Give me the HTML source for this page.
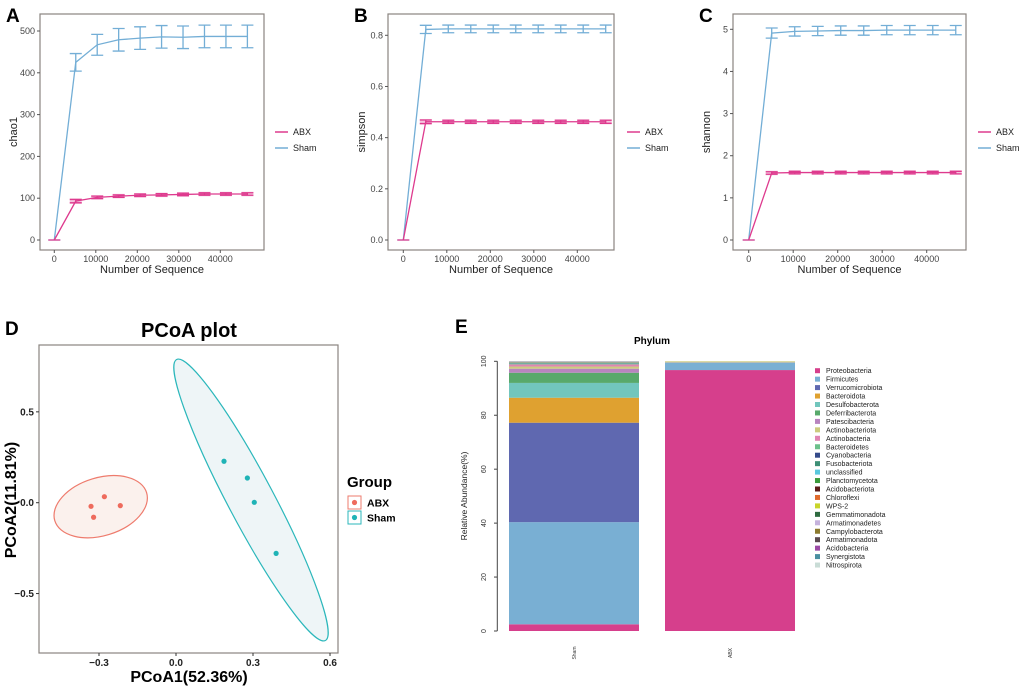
<!DOCTYPE html>
<html><head><meta charset="utf-8"><style>
html,body{margin:0;padding:0;background:#fff;}
svg{display:block;font-family:"Liberation Sans",Arial,sans-serif;}
</style></head><body>
<svg id="fig" width="1020" height="687" viewBox="0 0 1020 687"></svg>
<script>
// ---------- data ----------
const seqDepth = [0,5170,10340,15510,20680,25850,31020,36190,41360,46530];
const chaoSham = [0,425,467,479,483,486,485,487,487,487];
const chaoShamErr = [0,21,25,27,27,27,27,27,27,27];
const chaoAbx = [0,93,102,105,107,108,109,110,110,110];
const chaoAbxErr = [0,4,3,3,3,3,3,3,3,3];
const simpSham = [0,0.823,0.825,0.825,0.825,0.825,0.825,0.825,0.825,0.825];
const simpShamErr = [0,0.016,0.015,0.015,0.015,0.015,0.015,0.015,0.015,0.015];
const simpAbx = [0,0.462,0.462,0.462,0.462,0.462,0.462,0.462,0.462,0.462];
const simpAbxErr = [0,0.007,0.006,0.006,0.006,0.006,0.006,0.006,0.006,0.006];
const shanSham = [0,4.91,4.95,4.96,4.97,4.97,4.98,4.98,4.98,4.98];
const shanShamErr = [0,0.12,0.11,0.11,0.11,0.11,0.11,0.11,0.11,0.11];
const shanAbx = [0,1.59,1.60,1.60,1.60,1.60,1.60,1.60,1.60,1.60];
const shanAbxErr = [0,0.03,0.03,0.03,0.03,0.03,0.03,0.03,0.03,0.03];
const xTicks = [0,10000,20000,30000,40000];
const chaoTicks = [0,100,200,300,400,500];
const simpTicks = [0,0.2,0.4,0.6,0.8];
const shanTicks = [0,1,2,3,4,5];

const abxPcX = [-0.331,-0.279,-0.217,-0.321];
const abxPcY = [-0.020,0.033,-0.016,-0.080];
const shamPcX = [0.187,0.278,0.305,0.390];
const shamPcY = [0.228,0.136,0.002,-0.279];
const pcXTicks = [-0.3,0.0,0.3,0.6];
const pcYTicks = [-0.5,0.0,0.5];

const phyla = ["Proteobacteria","Firmicutes","Verrucomicrobiota","Bacteroidota","Desulfobacterota","Deferribacterota","Patescibacteria","Actinobacteriota","Actinobacteria","Bacteroidetes","Cyanobacteria","Fusobacteriota","unclassified","Planctomycetota","Acidobacteriota","Chloroflexi","WPS-2","Gemmatimonadota","Armatimonadetes","Campylobacterota","Armatimonadota","Acidobacteria","Synergistota","Nitrospirota"];
const phylaColors = ["#d63f8c","#79afd3","#5f68b0","#dfa130","#72c6bd","#58a96b","#b884bf","#cccb7e","#e084b3","#6cc08b","#354a8a","#3d8f76","#5ac8de","#3b9a3b","#5a1a18","#e06a2c","#c9d52a","#2e6b40","#c5b2dc","#8c7a2e","#5a4a50","#9b4aa5","#4a8fa0","#c9dcd6"];
const barGroups = ["Sham","ABX"];
const shamAbund = [2.5,38,37,9.3,5.5,3.8,1.5,0.8,0.8,0.3,0.1,0.1,0.1,0.05,0.05,0.05,0.05,0.05,0.05,0.05,0.05,0.05,0.05,0.05];
const abxAbund = [96.8,2.7,0.05,0.05,0.05,0.05,0.05,0.3,0,0,0,0,0,0,0,0,0,0,0,0,0,0,0,0];
const abundTicks = [0,20,40,60,80,100];

// ---------- helpers ----------
const NS="http://www.w3.org/2000/svg";
const svg=document.getElementById('fig');
function el(tag,attrs,parent,text){const e=document.createElementNS(NS,tag);for(const k in attrs)e.setAttribute(k,attrs[k]);if(text!==undefined)e.textContent=text;(parent||svg).appendChild(e);return e;}
function fmt(v){return String(v);}
const SHAM="#73aed6", ABX="#de3a8e";

function lineChart(cfg){
  const g=el('g',{}, svg);
  
  
  const sx=v=>cfg.x0+v*cfg.xs, sy=v=>cfg.y0-v*cfg.ys;
  const box=el('rect',{x:cfg.bx1,y:14,width:cfg.bx2-cfg.bx1,height:236,fill:'none',stroke:'#8a8480','stroke-width':1.2},g);
  
  
  xTicks.forEach(t=>{
    el('line',{x1:sx(t),x2:sx(t),y1:250,y2:253,stroke:'#555'},g);
    const tx=el('text',{x:sx(t),y:262,'font-size':9,fill:'#444','text-anchor':'middle'},g,fmt(t));
    
    
  });
  cfg.yticks.forEach(t=>{
    el('line',{x1:cfg.bx1-3,x2:cfg.bx1,y1:sy(t),y2:sy(t),stroke:'#555'},g);
    const tx=el('text',{x:cfg.bx1-5,y:sy(t)+3,'font-size':9,fill:'#444','text-anchor':'end'},g,cfg.ylab(t));
    
    
  });
  const xt=el('text',{x:(cfg.bx1+cfg.bx2)/2,y:273,'font-size':11,fill:'#222','text-anchor':'middle'},g,'Number of Sequence');
  
  
  const yt=el('text',{x:0,y:0,'font-size':11,fill:'#222','text-anchor':'middle',transform:`translate(${cfg.bx1-23},132) rotate(-90)`},g,cfg.ytitle);
  
  
  [[cfg.sham,cfg.shamErr,SHAM,'sham'],[cfg.abx,cfg.abxErr,ABX,'abx']].forEach(([vals,errs,col,nm])=>{
    const pts=vals.map((v,i)=>sx(seqDepth[i])+','+sy(v)).join(' ');
    const pl=el('polyline',{points:pts,fill:'none',stroke:col,'stroke-width':1.3},g);
    
    
    vals.forEach((v,i)=>{
      const x=sx(seqDepth[i]),hi=sy(v+errs[i]),lo=sy(v-errs[i]);
      const eb=el('path',{d:`M${x-6},${hi}H${x+6}M${x},${hi}V${lo}M${x-6},${lo}H${x+6}`,stroke:col,'stroke-width':1.3,fill:'none'},g);
      
      
      if(nm==='abx'&&i>0){el('rect',{x:x-6,y:hi-1,width:12,height:lo-hi+2,fill:col,opacity:0.3},g);}
    });
  });
  [['ABX',ABX,132],['Sham',SHAM,148]].forEach(([lab,col,y])=>{
    const lg=el('g',{},g);
    
    
    el('line',{x1:cfg.lx,x2:cfg.lx+13,y1:y,y2:y,stroke:col,'stroke-width':1.5},lg);
    el('text',{x:cfg.lx+18,y:y+3,'font-size':9,fill:'#222'},lg,lab);
  });
  const pl=el('text',{x:cfg.bx1-34,y:22,'font-size':19,'font-weight':'bold',fill:'#000'},g,cfg.letter);
  
  
}

lineChart({name:'chao1-chart',letter:'A',bx1:40,bx2:264,x0:54.3,xs:166/40000,y0:240,ys:209/500,yticks:chaoTicks,ylab:fmt,ytitle:'chao1',sham:chaoSham,shamErr:chaoShamErr,abx:chaoAbx,abxErr:chaoAbxErr,lx:275});
lineChart({name:'simpson-chart',letter:'B',bx1:388,bx2:614,x0:403.3,xs:174/40000,y0:240,ys:204.7/0.8,yticks:simpTicks,ylab:t=>t.toFixed(1),ytitle:'simpson',sham:simpSham,shamErr:simpShamErr,abx:simpAbx,abxErr:simpAbxErr,lx:627});
lineChart({name:'shannon-chart',letter:'C',bx1:733,bx2:966,x0:748.7,xs:178/40000,y0:240,ys:210.7/5,yticks:shanTicks,ylab:fmt,ytitle:'shannon',sham:shanSham,shamErr:shanShamErr,abx:shanAbx,abxErr:shanAbxErr,lx:978});

// ---------- PCoA ----------
(function(){
  const g=el('g',{},svg);
  
  
  const sx=v=>176+v*256.7, sy=v=>502.7-v*181.7;
  el('text',{x:5,y:335,'font-size':19,'font-weight':'bold'},g,'D');
  const t=el('text',{x:189,y:337,'font-size':20,'font-weight':'bold','text-anchor':'middle'},g,'PCoA plot');
  
  
  el('rect',{x:39,y:345,width:299,height:308,fill:'#fff',stroke:'#8a8480','stroke-width':1.2},g);
  const e1=el('ellipse',{cx:100.7,cy:506.7,rx:48,ry:29,fill:'#fbf1ed',stroke:'#ee7b6d','stroke-width':1.2,transform:'rotate(-17 100.7 506.7)'},g);
  
  
  const e2=el('ellipse',{cx:251,cy:500,rx:159,ry:23,fill:'#eef5f7',stroke:'#2bb7bb','stroke-width':1.2,transform:'rotate(62.1 251 500)'},g);
  
  
  abxPcX.forEach((x,i)=>{const c=el('circle',{cx:sx(x),cy:sy(abxPcY[i]),r:2.6,fill:'#ee6b5d'},g);
    
    });
  shamPcX.forEach((x,i)=>{const c=el('circle',{cx:sx(x),cy:sy(shamPcY[i]),r:2.6,fill:'#1fb3b6'},g);
    
    });
  pcXTicks.forEach(v=>{el('line',{x1:sx(v),x2:sx(v),y1:653,y2:656,stroke:'#333'},g);
    el('text',{x:sx(v),y:666,'font-size':10,'font-weight':'bold','text-anchor':'middle',fill:'#222'},g,v.toFixed(1).replace('-','−'));});
  pcYTicks.forEach(v=>{el('line',{x1:36,x2:39,y1:sy(v),y2:sy(v),stroke:'#333'},g);
    el('text',{x:34,y:sy(v)+3.5,'font-size':10,'font-weight':'bold','text-anchor':'end',fill:'#222'},g,v.toFixed(1).replace('-','−'));});
  const xt=el('text',{x:189,y:682,'font-size':16,'font-weight':'bold','text-anchor':'middle'},g,'PCoA1(52.36%)');
  
  
  const yt=el('text',{x:0,y:0,'font-size':16,'font-weight':'bold','text-anchor':'middle',transform:'translate(16,500) rotate(-90)'},g,'PCoA2(11.81%)');
  
  
  el('text',{x:347,y:487,'font-size':15,'font-weight':'bold'},g,'Group');
  [['ABX','#ee7b6d','#ee6b5d',503],['Sham','#2bb7bb','#1fb3b6',518]].forEach(([lab,st,fi,y])=>{
    const lg=el('g',{},g);
    
    
    el('rect',{x:348,y:y-7,width:13,height:13,fill:'#fff',stroke:st,'stroke-width':1},lg);
    el('circle',{cx:354.5,cy:y-0.5,r:2.6,fill:fi},lg);
    el('text',{x:367,y:y+3.5,'font-size':10.5,'font-weight':'bold'},lg,lab);
  });
})();

// ---------- stacked bar ----------
(function(){
  const g=el('g',{},svg);
  
  
  const sy=v=>631-v*2.697;
  const barX=[509,665], barW=130;
  el('text',{x:455,y:333,'font-size':19,'font-weight':'bold'},g,'E');
  el('text',{x:652,y:344,'font-size':10,'font-weight':'bold','text-anchor':'middle'},g,'Phylum');
  el('line',{x1:497.3,x2:497.3,y1:sy(0),y2:sy(100),stroke:'#444'},g);
  abundTicks.forEach(v=>{el('line',{x1:494,x2:497.3,y1:sy(v),y2:sy(v),stroke:'#444'},g);
    el('text',{x:0,y:0,'font-size':7,'text-anchor':'middle',fill:'#333',transform:`translate(486,${sy(v)}) rotate(-90)`},g,String(v));});
  const yt=el('text',{x:0,y:0,'font-size':8.5,'text-anchor':'middle',fill:'#222',transform:'translate(467,496) rotate(-90)'},g,'Relative Abundance(%)');
  
  
  [shamAbund,abxAbund].forEach((vals,bi)=>{
    const total=vals.reduce((a,b)=>a+b,0);
    let acc=0;
    vals.forEach((v,i)=>{
      if(v<=0)return;
      const h=v/total*100;
      const r=el('rect',{x:barX[bi],y:sy(acc+h),width:barW,height:h*2.697,fill:phylaColors[i]},g);
      
      
      acc+=h;
    });
    el('text',{x:0,y:0,'font-size':5,'text-anchor':'middle',fill:'#333',transform:`translate(${barX[bi]+barW/2+2},653) rotate(-90)`},g,barGroups[bi]);
  });
  phyla.forEach((p,i)=>{
    const y=370.7+i*8.45;
    const lg=el('g',{},g);
    
    
    el('rect',{x:815,y:y-2.5,width:5,height:5,fill:phylaColors[i]},lg);
    el('text',{x:826,y:y+2.5,'font-size':7,fill:'#222'},lg,p);
  });
})();
</script>
</body></html>
